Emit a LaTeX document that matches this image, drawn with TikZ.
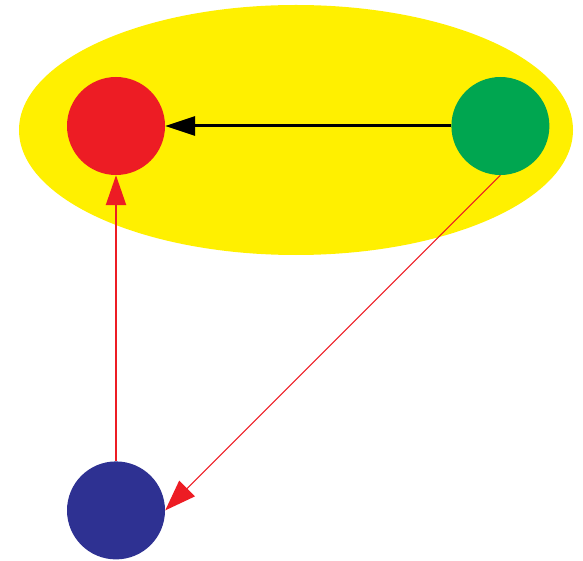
\documentclass[tikz,border=0pt]{standalone}
\usepackage{xcolor}
\usepackage{tikz}
\usetikzlibrary{positioning,shapes.geometric,arrows.meta}
\definecolor{setyellow}{HTML}{FFF000}
\definecolor{dotred}{HTML}{ED1C24}
\definecolor{dotgreen}{HTML}{00A650}
\definecolor{dotblue}{HTML}{2E3192}

\begin{document}
\begin{tikzpicture}[
    x=1pt, y=-1pt,
    node distance=286pt,
    dot/.style={circle, minimum size=98pt, inner sep=0pt},
    arr/.style={-{Triangle[length=30pt, width=20pt]}},
]
    \useasboundingbox (0,0) rectangle (583,561);
    \node[ellipse, fill=setyellow, minimum width=554pt, minimum height=250pt, inner sep=0pt] (group) at (296,130) {};

    \node[dot, fill=dotred] (red) at (116,126) {};
    \node[dot, fill=dotgreen, right=of red] (green) {};
    \node[dot, fill=dotblue, below=of red] (blue) {};

    \draw[arr, line width=3pt, -{Triangle[length=30pt, width=19pt]}] (green) -- (red);
    \draw[arr, line width=2.4pt, dotred] (blue) -- (red);
    \draw[arr, line width=1.2pt, dotred, -{Triangle[length=31pt, width=22pt]}] (green.south) -- (blue.east);
\end{tikzpicture}
\end{document}
